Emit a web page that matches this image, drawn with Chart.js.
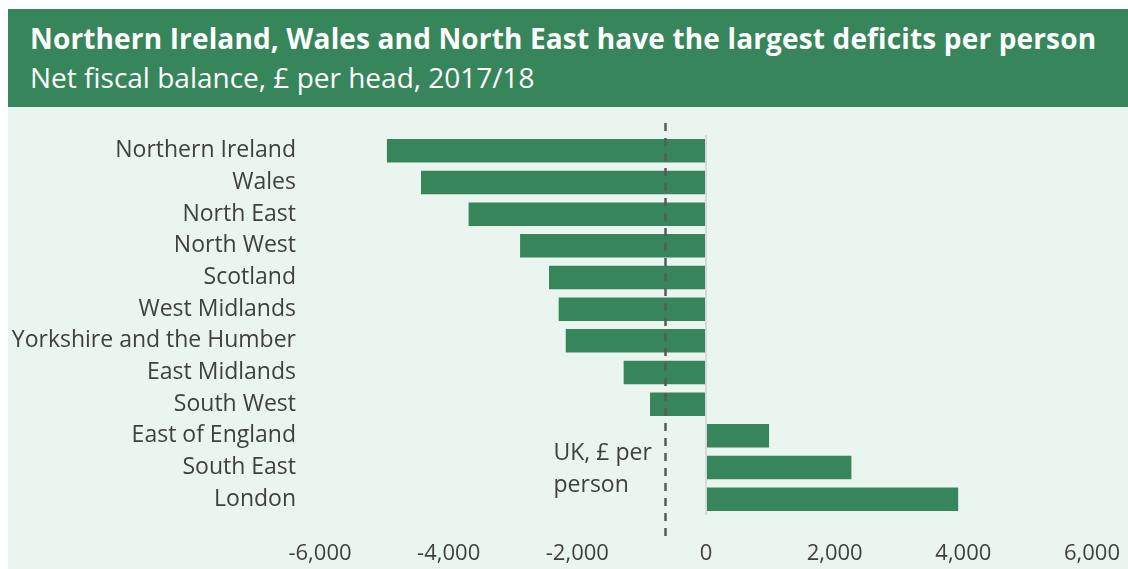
<!DOCTYPE html>
<html>
<head>
<meta charset="utf-8">
<script src="https://cdn.jsdelivr.net/npm/chart.js@4/dist/chart.umd.min.js"></script>
<style>
  html, body { margin: 0; padding: 0; background: #ffffff; }
  #wrap { position: relative; width: 1128px; height: 569px; overflow: hidden; font-family: "Open Sans", sans-serif; }
  #panel { position: absolute; left: 8px; top: 107px; width: 1120px; height: 462px; background: #ebf5ef; }
  #header { position: absolute; left: 8px; top: 9px; width: 1120px; height: 98px; background: #37855b; color: #ffffff; }
  #title { position: absolute; left: 22px; top: 12px; font-size: 28px; font-weight: 700; line-height: 34px; white-space: nowrap; letter-spacing: 0.15px; }
  #subtitle { position: absolute; left: 22px; top: 51px; font-size: 28px; font-weight: 400; line-height: 34px; white-space: nowrap; }
  canvas { position: absolute; left: 0; top: 0; }
</style>
</head>
<body>
<div id="wrap">
  <div id="panel"></div>
  <div id="header">
    <div id="title">Northern Ireland, Wales and North East have the largest deficits per person</div>
    <div id="subtitle">Net fiscal balance, £ per head, 2017/18</div>
  </div>
  <canvas id="chart" width="1128" height="569"></canvas>
</div>
<script>
// Regions, ordered from largest deficit to largest surplus
const regions = [
  "Northern Ireland", "Wales", "North East", "North West", "Scotland",
  "West Midlands", "Yorkshire and the Humber", "East Midlands", "South West",
  "East of England", "South East", "London"
];
// Net fiscal balance, £ per head, 2017/18
const balancePerHead = [
  -4960, -4430, -3690, -2890, -2440, -2290, -2180, -1280, -870, 980, 2260, 3920
];
// UK average, £ per person
const ukPerPerson = -640;
const ukLabelLines = ["UK, £ per", "person"];
// Value axis
const axisMin = -6000;
const axisMax = 6000;
const axisStep = 2000;

const GREEN = "#37855b";
const TEXT = "#404040";
const FONT = "'Open Sans', sans-serif";

// Dashed UK reference line with its label
const ukLinePlugin = {
  id: "ukLine",
  afterDatasetsDraw(chart) {
    const { ctx, scales } = chart;
    const x = Math.round(scales.x.getPixelForValue(ukPerPerson)) + 0.5;
    const area = chart.chartArea;
    ctx.save();
    ctx.strokeStyle = "#5a5a5a";
    ctx.lineWidth = 2.5;
    ctx.setLineDash([8, 7]);
    ctx.beginPath();
    ctx.moveTo(x, area.top - 12);
    ctx.lineTo(x, area.bottom + 22);
    ctx.stroke();
    ctx.setLineDash([]);
    ctx.fillStyle = TEXT;
    ctx.font = "23px " + FONT;
    ctx.textAlign = "left";
    ctx.textBaseline = "middle";
    const yFirst = scales.y.getPixelForValue(regions.length - 2) - 14;
    ukLabelLines.forEach((line, i) => {
      ctx.fillText(line, x - 112, yFirst + i * 32);
    });
    ctx.restore();
  }
};

new Chart(document.getElementById("chart"), {
  type: "bar",
  data: {
    labels: regions,
    datasets: [{
      data: balancePerHead,
      backgroundColor: GREEN,
      borderWidth: 0,
      categoryPercentage: 1,
      barPercentage: 0.74
    }]
  },
  options: {
    indexAxis: "y",
    responsive: false,
    animation: false,
    events: [],
    layout: { padding: { top: 135, right: 36, bottom: 0, left: 0 } },
    plugins: {
      legend: { display: false },
      tooltip: { enabled: false },
      title: { display: false }
    },
    scales: {
      x: {
        min: axisMin,
        max: axisMax,
        border: { display: false },
        grid: {
          drawTicks: false,
          lineWidth: 2,
          color: (c) => (c.tick && c.tick.value === 0 ? "#d6d9d7" : "rgba(0,0,0,0)")
        },
        ticks: {
          stepSize: axisStep,
          padding: 26,
          color: TEXT,
          font: { family: FONT, size: 22 },
          maxRotation: 0,
          callback: (v) => v.toLocaleString("en-GB")
        },
        afterFit(scale) {
          scale.height = 54;
          // end labels may overhang the plot; the outer padding covers them
          scale.paddingLeft = 0;
          scale.paddingRight = 0;
        }
      },
      y: {
        border: { display: false },
        grid: { display: false, drawTicks: false },
        ticks: {
          padding: 24,
          color: TEXT,
          font: { family: FONT, size: 23 }
        },
        afterFit(scale) { scale.width = 320; }
      }
    }
  },
  plugins: [ukLinePlugin]
});
</script>
</body>
</html>
